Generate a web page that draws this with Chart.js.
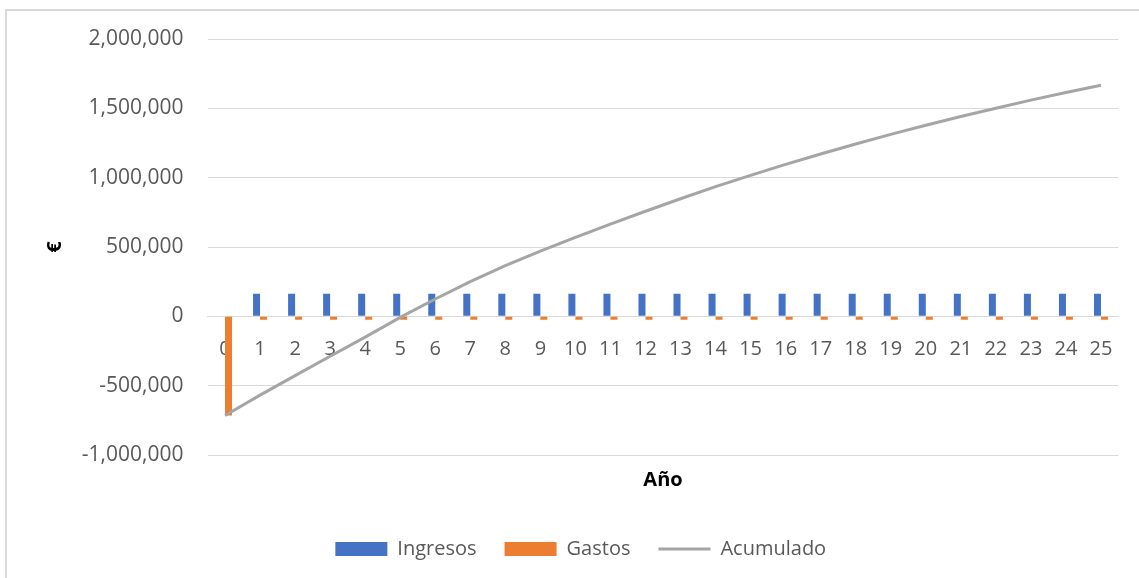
<!DOCTYPE html>
<html>
<head>
<meta charset="utf-8">
<script src="https://cdn.jsdelivr.net/npm/chart.js@4/dist/chart.umd.min.js"></script>
<style>
  html, body { margin: 0; padding: 0; background: #ffffff; }
  #wrap { position: relative; width: 1139px; height: 578px; overflow: hidden; }
  #frame { position: absolute; left: 5px; top: 9px; width: 1160px; height: 600px; border: 2px solid #d9d9d9; box-sizing: border-box; }
  #chart { position: absolute; left: 0; top: 0; }
</style>
</head>
<body>
<div id="wrap">
  <div id="frame"></div>
  <canvas id="chart" width="1139" height="578"></canvas>
</div>
<script>
// Datos
const years = ['0', '1', '2', '3', '4', '5', '6', '7', '8', '9', '10', '11', '12',
  '13', '14', '15', '16', '17', '18', '19', '20', '21', '22', '23', '24', '25'];

const ingresos = [0, 162000, 162000, 162000, 162000, 162000, 162000, 162000, 162000,
  162000, 162000, 162000, 162000, 162000, 162000, 162000, 162000, 162000, 162000,
  162000, 162000, 162000, 162000, 162000, 162000, 162000];

const gastos = [-715000, -25000, -25000, -25000, -25000, -25000, -25000, -25000, -25000,
  -25000, -25000, -25000, -25000, -25000, -25000, -25000, -25000, -25000, -25000,
  -25000, -25000, -25000, -25000, -25000, -25000, -25000];

const acumulado = [-715000, -568000, -428000, -288000, -150000, -8000, 125000, 250000,
  365000, 470000, 570000, 665000, 758000, 848000, 935000, 1017000, 1096000, 1171000,
  1243000, 1312000, 1378000, 1441000, 1501000, 1559000, 1614000, 1666000];

const yMin = -1000000;
const yMax = 2000000;
const yStep = 500000;

const FONT = "'Open Sans', 'Liberation Sans', sans-serif";
const TEXT = '#595959';
const GRID = '#d9d9d9';

const ctx = document.getElementById('chart').getContext('2d');

new Chart(ctx, {
  type: 'bar',
  data: {
    labels: years,
    datasets: [
      {
        label: 'Ingresos',
        data: ingresos,
        backgroundColor: '#4472C4',
        borderWidth: 0,
        categoryPercentage: 0.4,
        barPercentage: 1.0,
        pointStyle: 'rect',
        order: 1
      },
      {
        label: 'Gastos',
        data: gastos,
        backgroundColor: '#ED7D31',
        borderWidth: 0,
        categoryPercentage: 0.4,
        barPercentage: 1.0,
        pointStyle: 'rect',
        order: 1
      },
      {
        type: 'line',
        label: 'Acumulado',
        data: acumulado,
        borderColor: '#A5A5A5',
        backgroundColor: '#A5A5A5',
        borderWidth: 3,
        pointRadius: 0,
        pointStyle: 'line',
        tension: 0,
        order: 0
      }
    ]
  },
  options: {
    responsive: false,
    animation: false,
    devicePixelRatio: 1,
    layout: {
      padding: { left: 43, right: 20.5, top: 39, bottom: 9 }
    },
    scales: {
      x: {
        position: { y: 0 },
        offset: true,
        grid: { display: false },
        border: { display: true, color: GRID, width: 1 },
        ticks: {
          color: TEXT,
          font: { family: FONT, size: 20 },
          padding: 13,
          maxRotation: 0,
          autoSkip: false
        }
      },
      x2: {
        type: 'category',
        position: 'bottom',
        grid: { display: false },
        border: { display: false },
        ticks: { display: false },
        title: {
          display: true,
          text: 'Año',
          color: '#000000',
          font: { family: FONT, size: 20, weight: 'bold' },
          padding: { top: 5, bottom: 19 }
        }
      },
      y: {
        min: yMin,
        max: yMax,
        afterFit: (scale) => { scale.width = 164.5; },
        grid: { color: GRID, lineWidth: 1, drawTicks: false },
        border: { display: false },
        ticks: {
          stepSize: yStep,
          color: TEXT,
          font: { family: FONT, size: 21 },
          padding: 24,
          callback: (value) => value.toLocaleString('en-US')
        },
        title: {
          display: true,
          text: '€',
          color: '#000000',
          font: { family: FONT, size: 20, weight: 'bold' },
          padding: { top: 0, bottom: 0 }
        }
      }
    },
    plugins: {
      legend: {
        position: 'bottom',
        labels: {
          usePointStyle: true,
          pointStyleWidth: 52,
          boxHeight: 14,
          padding: 28,
          color: TEXT,
          font: { family: FONT, size: 20 },
          sort: (a, b) => a.datasetIndex - b.datasetIndex
        }
      },
      tooltip: { enabled: false }
    }
  }
});
</script>
</body>
</html>
